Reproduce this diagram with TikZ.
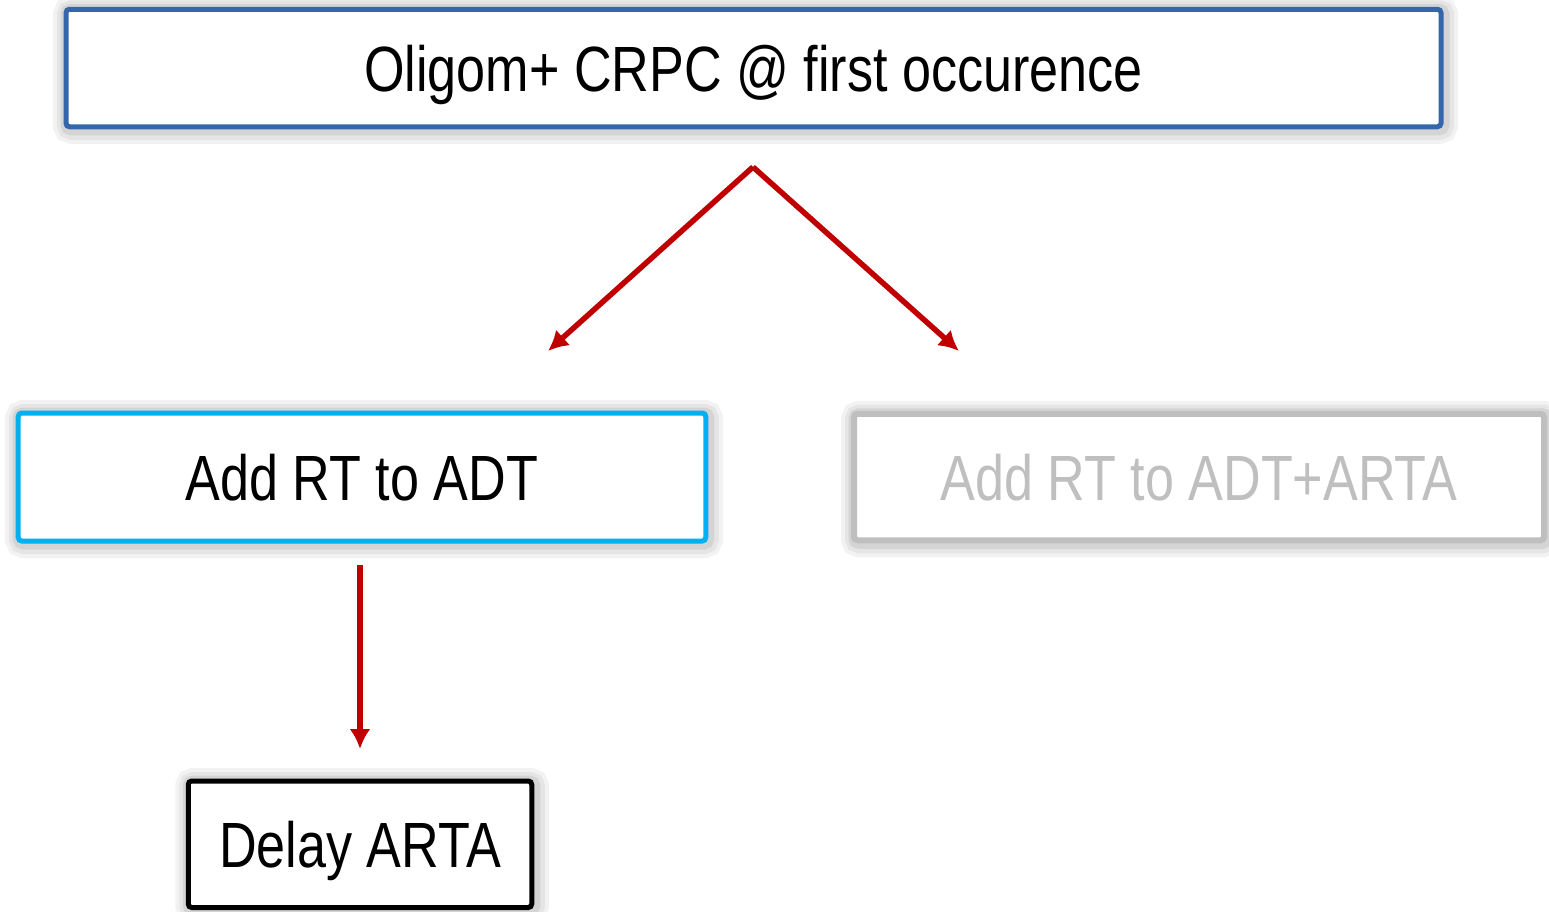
\documentclass[tikz,border=0pt]{standalone}
\usepackage{fontspec}
\setmainfont{Liberation Sans}[FakeStretch=0.815]
\usetikzlibrary{arrows.meta}

\definecolor{kastenblau}{HTML}{3366AA}
\definecolor{kastencyan}{HTML}{00B0F0}
\definecolor{kastengrau}{HTML}{BFBFBF}
\definecolor{pfeilrot}{HTML}{C00000}

\begin{document}
\begin{tikzpicture}

    % --- Grundeinstellungen für Styles ---
    \tikzset{
        halo/.style={preaction={draw=black!5, line width=0.30cm, transform canvas={shift={(0.02,-0.02)}}},
                     preaction={draw=black!10, line width=0.22cm, transform canvas={shift={(0.02,-0.02)}}},
                     preaction={draw=black!17, line width=0.14cm, transform canvas={shift={(0.015,-0.015)}}}},
        kasten/.style={halo, draw, fill=white, line width=0.05cm, rounded corners=1pt, inner sep=0pt, text depth=0pt, font=\fontsize{18.2}{22}\selectfont, align=center},
        hauptfrage/.style={kasten, draw=kastenblau, minimum width=13.75cm, minimum height=1.175cm},
        aktiv/.style={kasten, draw=kastencyan, minimum width=6.875cm, minimum height=1.28cm},
        inaktiv/.style={kasten, draw=kastengrau, text=kastengrau, line width=0.06cm, minimum width=6.90cm, minimum height=1.265cm},
        schritt/.style={kasten, draw=black, minimum width=3.435cm, minimum height=1.265cm},
        pfeil/.style={draw=pfeilrot, line width=0.055cm, -{Latex[length=0.20cm, width=0.21cm]}}
    }

    % Bildgröße wie im Original
    \useasboundingbox (0,0) rectangle (15.49,9.11);

    % --- 1. Kästen ---

    % Oben
    \node[hauptfrage] (oligom) at (7.535, 8.43) {Oligom+ CRPC @ first occurence};

    % Mitte links (aktiv) und rechts (ausgegraut)
    \node[aktiv] (adt) at (3.62, 4.34) {Add RT to ADT};
    \node[inaktiv] (adtarta) at (11.99, 4.34) {Add RT to ADT+ARTA};

    % Unten
    \node[schritt] (delay) at (3.60, 0.6675) {Delay ARTA};

    % --- 2. Pfeile ---
    \coordinate (gabel) at (7.53, 7.44);
    \coordinate (links) at (5.48, 5.60);
    \coordinate (rechts) at (9.59, 5.60);

    \draw[pfeil] (gabel) -- (links);
    \draw[pfeil] (gabel) -- (rechts);
    \draw[pfeil, shorten <=0.215cm, shorten >=0.295cm] (adt.south -| delay.north) -- (delay.north);

\end{tikzpicture}
\end{document}
